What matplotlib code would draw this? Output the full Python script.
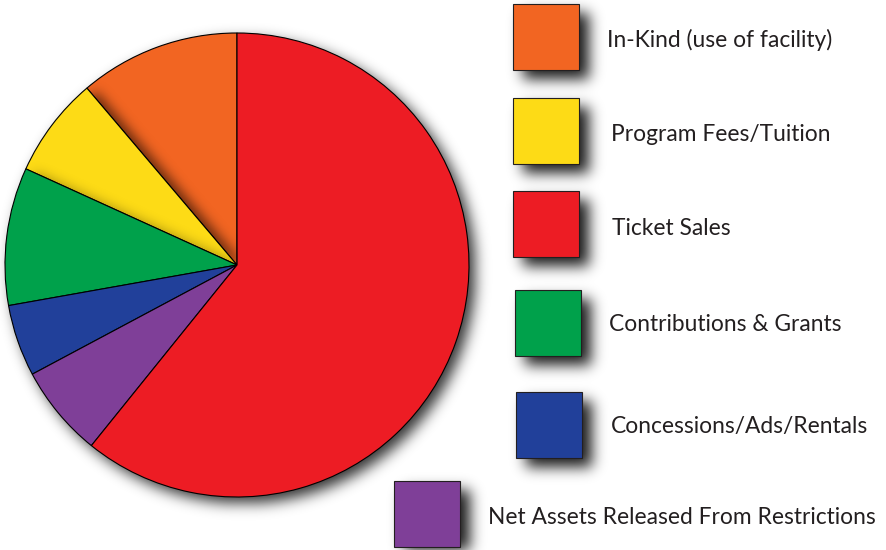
import numpy as np
import matplotlib
matplotlib.use('Agg')
import matplotlib.pyplot as plt
from matplotlib.patches import Rectangle

W, H = 887, 550

# revenue sources (share of total, %), counterclockwise from top
labels = ['In-Kind (use of facility)', 'Program Fees/Tuition', 'Contributions & Grants',
          'Concessions/Ads/Rentals', 'Net Assets Released From Restrictions', 'Ticket Sales']
values = [11.2, 7.0, 9.6, 5.0, 6.4, 60.8]
colors = ['#F26522', '#FDDB16', '#00A14B', '#21409A', '#7F3F98', '#ED1C24']

# legend order top to bottom and box placement (image pixels, x0, y0 top-left)
legend_order = [0, 1, 5, 2, 3, 4]
box_xy = [(513, 4), (513, 98), (513, 191), (515, 290), (516, 392), (394, 481)]
text_xy = [(607, 40), (611, 134), (612, 228), (609, 324), (611, 427), (488, 517)]
box = 66

cx, cy, rad = 237, 265, 232


def blur(a, sigma):
    k = np.arange(-3 * sigma, 3 * sigma + 1)
    k = np.exp(-k ** 2 / (2 * sigma ** 2))
    k /= k.sum()
    a = np.apply_along_axis(lambda r: np.convolve(r, k, mode='same'), 1, a)
    a = np.apply_along_axis(lambda c: np.convolve(c, k, mode='same'), 0, a)
    return a


yy, xx = np.mgrid[0:H, 0:W]
inside = ((xx - cx) ** 2 + (yy - cy) ** 2) < rad ** 2
ang = np.degrees(np.arctan2(-(yy - cy), xx - cx)) % 360
bounds = 90 + np.concatenate([[0], np.cumsum(values)]) * 3.6


def wedge_mask(i):
    a0, a1 = bounds[i] % 360, bounds[i + 1] % 360
    if a0 < a1:
        m = (ang >= a0) & (ang < a1)
    else:
        m = (ang >= a0) | (ang < a1)
    return (m & inside).astype(float)


# drop shadows behind pie and legend boxes
mask = (((xx - cx - 6) ** 2 + (yy - cy - 6) ** 2) < rad ** 2).astype(float)
mask = blur(mask, 7) * 0.8
bmask = np.zeros((H, W))
for x0, y0 in box_xy:
    bmask[y0 + 9:y0 + 9 + box, x0 + 10:x0 + 10 + box] = 1
bmask = blur(bmask, 7) * 0.9
shadow = np.maximum(mask, bmask)
rgba = np.zeros((H, W, 4))
rgba[..., 3] = shadow

# inner shading: yellow onto orange, green onto yellow
inner = np.zeros((H, W))
for tgt, src, strength in [(0, 1, 0.6), (1, 2, 0.35)]:
    s = np.roll(wedge_mask(src), (3, 9), axis=(0, 1))
    inner = np.maximum(inner, blur(s, 6) * wedge_mask(tgt) * strength)
rgba2 = np.zeros((H, W, 4))
rgba2[..., 3] = inner

fig = plt.figure(figsize=(W / 100, H / 100), dpi=100)
ax = fig.add_axes([0, 0, 1, 1])
ax.imshow(rgba, extent=(0, W, 0, H), origin='upper', zorder=0)

ax.pie(values, colors=colors, startangle=90, counterclock=True,
       center=(cx, H - cy), radius=rad,
       wedgeprops=dict(edgecolor='black', linewidth=0.8), frame=False)
ax.imshow(rgba2, extent=(0, W, 0, H), origin='upper', zorder=2)

for i, (bx, by), (tx, ty) in zip(legend_order, box_xy, text_xy):
    ax.add_patch(Rectangle((bx, H - by - box), box, box, facecolor=colors[i],
                           edgecolor='#231F20', linewidth=0.8, zorder=3))
    ax.text(tx, H - ty, labels[i], fontsize=16.4, family='Lato', color='#231F20',
            va='center', ha='left', zorder=4)

ax.set_xlim(0, W)
ax.set_ylim(0, H)
ax.set_aspect('equal')
ax.axis('off')

fig.savefig('out.png', dpi=100, facecolor='white')
